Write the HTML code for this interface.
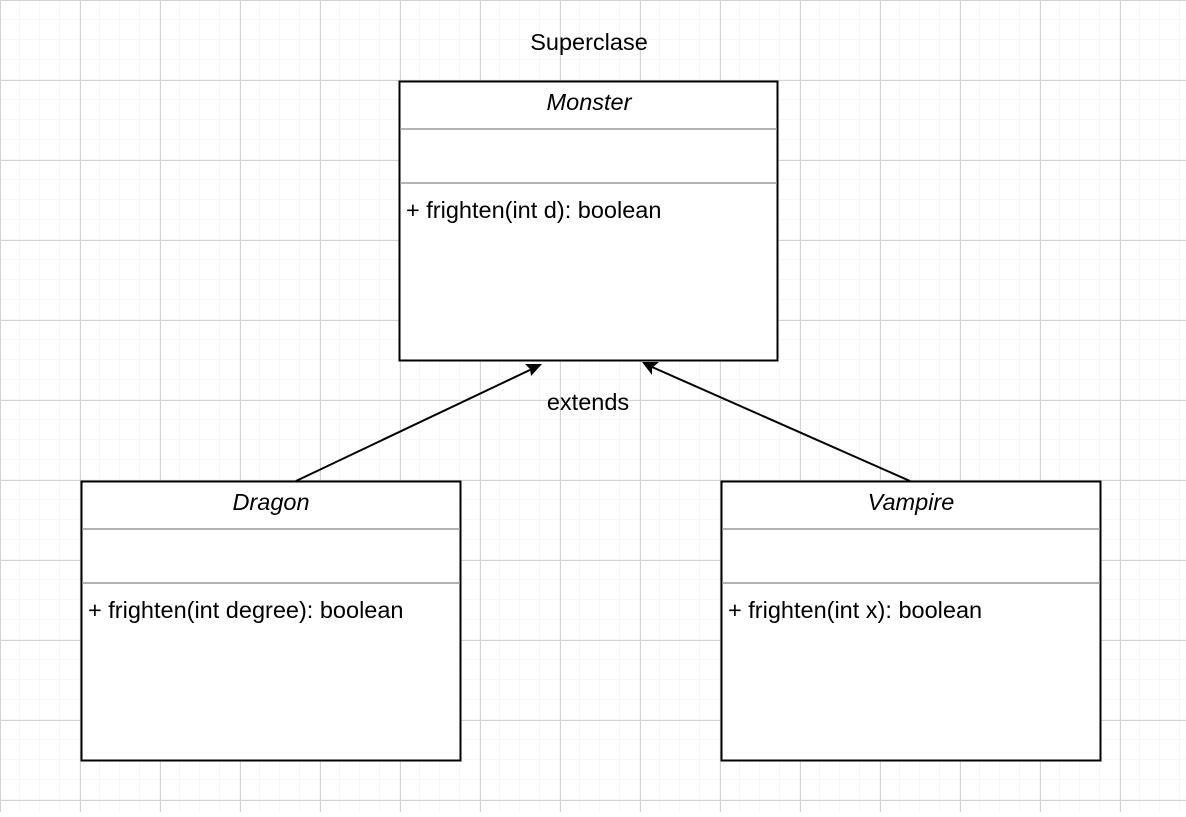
<!DOCTYPE html>
<html><head><meta charset="utf-8"><style>
body{margin:0;width:1186px;height:812px;overflow:hidden;background:#fff;font-family:"Liberation Sans",sans-serif}
</style></head><body>
<svg width="1186" height="812" xmlns="http://www.w3.org/2000/svg">
<defs>
<pattern id="minor" width="20" height="20" patternUnits="userSpaceOnUse"><path d="M20 0V20M0 20H20" fill="none" stroke="#efefef" stroke-width="1"/></pattern>
<pattern id="major" width="80" height="80" patternUnits="userSpaceOnUse"><rect width="80" height="80" fill="url(#minor)"/><path d="M0.5 0V80M0 0.5H80" fill="none" stroke="#d3d3d3" stroke-width="1"/></pattern>
</defs>
<rect width="1186" height="812" fill="url(#major)"/>
<g font-size="23.5" fill="#000">
<text x="589" y="50" text-anchor="middle">Superclase</text>
<text x="588" y="410" text-anchor="middle">extends</text>

<g>
<rect x="399.5" y="81.5" width="378" height="279" fill="#fff" stroke="#000" stroke-width="2"/>
<line x1="400" y1="129" x2="777" y2="129" stroke="#999" stroke-width="1.5"/>
<line x1="400" y1="183" x2="777" y2="183" stroke="#999" stroke-width="1.5"/>
<text x="589" y="110" text-anchor="middle" font-style="italic">Monster</text>
<text x="406" y="218">+ frighten(int d): boolean</text>
</g>

<g>
<rect x="81.5" y="481.5" width="379" height="279" fill="#fff" stroke="#000" stroke-width="2"/>
<line x1="82" y1="529" x2="460" y2="529" stroke="#999" stroke-width="1.5"/>
<line x1="82" y1="583" x2="460" y2="583" stroke="#999" stroke-width="1.5"/>
<text x="271" y="510" text-anchor="middle" font-style="italic">Dragon</text>
<text x="88" y="618">+ frighten(int degree): boolean</text>
</g>

<g>
<rect x="721.5" y="481.5" width="379" height="279" fill="#fff" stroke="#000" stroke-width="2"/>
<line x1="722" y1="529" x2="1100" y2="529" stroke="#999" stroke-width="1.5"/>
<line x1="722" y1="583" x2="1100" y2="583" stroke="#999" stroke-width="1.5"/>
<text x="911" y="510" text-anchor="middle" font-style="italic">Vampire</text>
<text x="728" y="618">+ frighten(int x): boolean</text>
</g>
</g>

<g>
<line x1="296" y1="481" x2="532" y2="369" stroke="#000" stroke-width="2"/>
<polygon points="542,364 525,364 530,369 531,376" fill="#000"/>
</g>
<g>
<line x1="910" y1="481" x2="652" y2="367" stroke="#000" stroke-width="2"/>
<polygon points="642,362 652,375 652,368 659,362" fill="#000"/>
</g>
</svg>
</body></html>
